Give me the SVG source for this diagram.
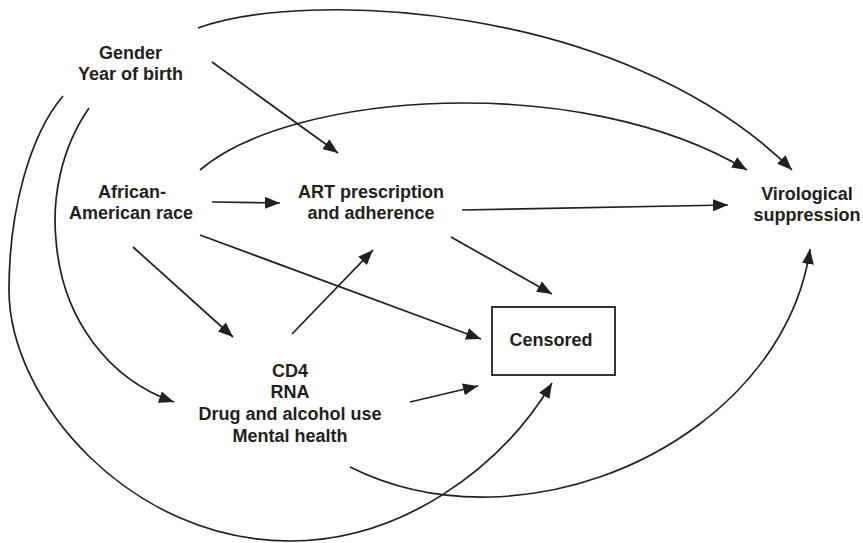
<svg xmlns="http://www.w3.org/2000/svg" width="863" height="543" viewBox="0 0 863 543">
  <defs>
    <marker id="arrow" viewBox="0 0 15 12" refX="15" refY="6" markerWidth="15" markerHeight="12" markerUnits="userSpaceOnUse" orient="auto">
      <path d="M0,0 L15,6 L0,12 z" fill="#231f20"/>
    </marker>
    <style>
      .lbl { font-family: "Liberation Sans", Arial, sans-serif; font-size: 18px; font-weight: bold; fill: #231f20; text-anchor: middle; }
      .edge { fill: none; stroke: #231f20; stroke-width: 1.7; marker-end: url(#arrow); }
      .box { fill: #ffffff; stroke: #231f20; stroke-width: 1.8; }
    </style>
  </defs>
  <rect x="0" y="0" width="863" height="543" fill="#ffffff"/>

  <g id="connectors">
    <path class="edge" d="M198,28 C300,-10 620,0 792,170"/>
    <path class="edge" d="M200,170 C290,92 580,70 747,170"/>
    <path class="edge" d="M212,62 L338,153"/>
    <path class="edge" d="M212,202 L280,203"/>
    <path class="edge" d="M462,210 L728,205"/>
    <path class="edge" d="M200,235 L481,339"/>
    <path class="edge" d="M451,237 L552,294"/>
    <path class="edge" d="M133,247 L233,337"/>
    <path class="edge" d="M292,334 L373,250"/>
    <path class="edge" d="M410,402 L478,386"/>
    <path class="edge" d="M89,108 C60,150 52,200 56,240 C62,320 110,380 174,402"/>
    <path class="edge" d="M63,96 C30,135 9,210 9,290 C9,400 130,541 290,541 C400,541 500,470 552,383"/>
    <path class="edge" d="M350,467 C400,492 450,498 490,497 C640,494 790,390 810,249"/>
  </g>

  <g id="node-gender">
    <text class="lbl" x="130.5" y="59">Gender</text>
    <text class="lbl" x="130.5" y="80">Year of birth</text>
  </g>
  <g id="node-race">
    <text class="lbl" x="132" y="198">African-</text>
    <text class="lbl" x="131" y="219">American race</text>
  </g>
  <g id="node-art">
    <text class="lbl" x="371" y="198">ART prescription</text>
    <text class="lbl" x="371" y="219">and adherence</text>
  </g>
  <g id="node-viro">
    <text class="lbl" x="807" y="200">Virological</text>
    <text class="lbl" x="807" y="221">suppression</text>
  </g>
  <g id="node-censored">
    <rect class="box" x="492" y="307" width="123" height="68"/>
    <text class="lbl" x="551" y="346">Censored</text>
  </g>
  <g id="node-covariates">
    <text class="lbl" x="290" y="377">CD4</text>
    <text class="lbl" x="290" y="398">RNA</text>
    <text class="lbl" x="290" y="420">Drug and alcohol use</text>
    <text class="lbl" x="290" y="442">Mental health</text>
  </g>
</svg>
